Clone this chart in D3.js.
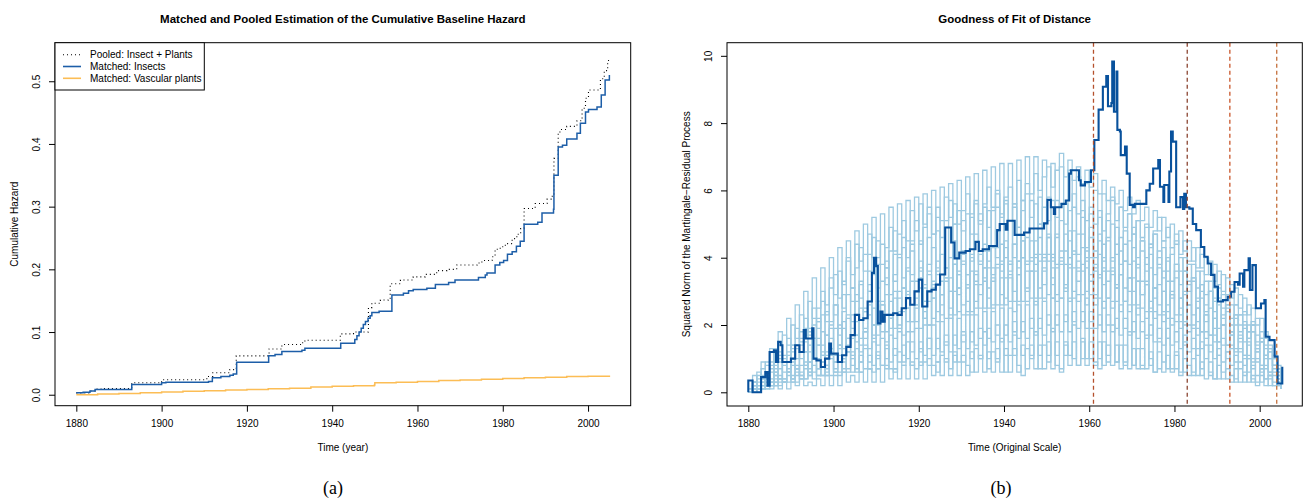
<!DOCTYPE html>
<html>
<head>
<meta charset="utf-8">
<script src="https://cdn.jsdelivr.net/npm/d3@7"></script>
<style>
  body { margin: 0; background: #fff; }
  svg { display: block; font-family: "Liberation Sans", Arial, sans-serif; }
  .axis text { font-size: 10px; fill: #000; }
  .axis line { stroke: #000; }
  .main-title { font-size: 11.5px; font-weight: bold; }
  .axis-title { font-size: 10px; }
  .legend text { font-size: 10px; }
  .caption { font-family: "Liberation Serif", "Times New Roman", serif; font-size: 18px; }
</style>
</head>
<body>
<svg id="figure" width="1306" height="499"></svg>
<script>
// ---------- data ----------
const yearTicks = [1880, 1900, 1920, 1940, 1960, 1980, 2000];
const hazardTicks = [0, 0.1, 0.2, 0.3, 0.4, 0.5];
const scoreTicks = [0, 2, 4, 6, 8, 10];
const legendLabels = ['Pooled: Insect + Plants', 'Matched: Insects', 'Matched: Vascular plants'];
const changeYears = [1961, 1983, 1993, 2004];

// (a) cumulative baseline hazard, [year, hazard] at each step
const pooledSteps = [[1880,0.003],[1883.2,0.006],[1884.4,0.009],[1886,0.010],[1893,0.019],[1900,0.024],
  [1910.6,0.029],[1912,0.035],[1916,0.040],[1917.5,0.062],[1925,0.065],[1925.2,0.073],[1928.2,0.080],
  [1932.9,0.083],[1933.6,0.087],[1941.9,0.097],[1945,0.100],[1948.5,0.139],[1949.3,0.146],[1951.3,0.151],
  [1953.2,0.154],[1953.6,0.177],[1956,0.183],[1959,0.188],[1961.8,0.192],[1964.5,0.198],[1966.9,0.200],
  [1969.2,0.207],[1974,0.210],[1975.1,0.214],[1977.5,0.220],[1978.2,0.232],[1979.4,0.236],[1980.6,0.241],
  [1982.2,0.249],[1983.3,0.256],[1984.2,0.265],[1985,0.297],[1987.6,0.305],[1990.4,0.312],[1991.6,0.318],
  [1992,0.377],[1993,0.417],[1993.4,0.423],[1995,0.428],[1997.4,0.437],[1998.6,0.457],[1999.4,0.473],
  [2000.1,0.486],[2002.9,0.504],[2003.8,0.517],[2004.6,0.533],[2005,0.533]];

const insectSteps = [[1880,0.003],[1881.6,0.004],[1883.2,0.006],[1884.4,0.0085],[1893,0.0165],[1900,0.019],
  [1901,0.020],[1911,0.021],[1911.9,0.027],[1913.9,0.029],[1916,0.031],[1916.8,0.033],[1917.6,0.052],
  [1925.1,0.062],[1926.6,0.064],[1928.2,0.069],[1932.9,0.071],[1933.6,0.074],[1942,0.082],[1945.3,0.088],
  [1945.8,0.094],[1946.3,0.100],[1946.8,0.106],[1947.3,0.112],[1947.8,0.117],[1948.4,0.122],[1948.9,0.126],
  [1949.3,0.131],[1951,0.133],[1954,0.159],[1956.7,0.162],[1957.9,0.166],[1959,0.168],[1962.2,0.170],
  [1964.2,0.176],[1967.3,0.179],[1968.8,0.183],[1974.3,0.187],[1975.9,0.191],[1976.3,0.194],[1978.2,0.207],
  [1979.3,0.211],[1980.2,0.214],[1981.1,0.224],[1982.2,0.228],[1983.2,0.237],[1984.1,0.245],[1985,0.272],
  [1988.2,0.275],[1989.2,0.290],[1991.9,0.296],[1992,0.350],[1993,0.395],[1994,0.398],[1995,0.408],
  [1997.4,0.417],[1998.2,0.433],[1999.4,0.451],[2000.1,0.455],[2002.1,0.459],[2003.1,0.478],[2004,0.502],
  [2005,0.510]];

const plantSteps = [[1880,0.000],[1885,0.001],[1890,0.002],[1895,0.003],[1900,0.0043],[1905,0.0055],
  [1910,0.0065],[1915,0.0075],[1920,0.0085],[1925,0.0095],[1930,0.0105],[1935,0.0122],[1940,0.0135],
  [1945,0.0145],[1949.9,0.0155],[1950,0.019],[1955,0.020],[1960,0.021],[1965,0.0225],[1970,0.0235],
  [1975,0.0245],[1980,0.026],[1985,0.027],[1990,0.028],[1995,0.029],[2000,0.0295],[2005,0.0305]];

// (b) observed squared norm of the score process, [year, value]
const observedSteps = [[1880,0],[1880,0.35],[1881,0],[1883,0.45],[1884,0.6],[1884.5,0.2],[1885,1.2],
  [1886,1.25],[1886.5,0.9],[1887,1.5],[1887.6,1.4],[1888,0.9],[1890,1.0],[1891,1.4],[1892,1.2],
  [1893,1.85],[1893.5,1.6],[1895,1.9],[1895.3,1.0],[1896,0.95],[1897,0.75],[1898,1.0],[1899,1.45],
  [1899.4,1.15],[1901,0.9],[1902,1.1],[1903,1.35],[1904,1.7],[1905,2.3],[1906,2.15],[1907,2.2],
  [1908,2.7],[1909,3.55],[1909.5,4.0],[1910,3.75],[1910.4,2.05],[1911,2.4],[1911.5,2.1],[1912,2.3],
  [1914,2.35],[1915,2.3],[1916,2.5],[1917,2.8],[1918,2.6],[1919,3.0],[1920,3.35],[1920.8,2.55],
  [1922,3.0],[1923,3.05],[1924,3.2],[1925,3.5],[1926.2,4.9],[1927.6,4.45],[1928.4,3.98],[1929.5,4.15],
  [1931,4.2],[1932,4.25],[1933.3,4.47],[1934.1,4.2],[1935,4.25],[1936.5,4.35],[1938.4,4.82],[1939,5.0],
  [1940.4,4.83],[1940.8,5.1],[1942.5,4.68],[1944.7,4.75],[1946,4.87],[1949.4,5.02],[1950.2,5.72],
  [1951,5.5],[1951.7,5.3],[1952,5.5],[1953.5,5.6],[1954.5,5.7],[1955.3,6.5],[1955.7,6.6],[1957.6,6.3],
  [1958,6.15],[1959,6.25],[1960.4,6.6],[1961.2,7.5],[1962.2,8.4],[1963.2,9.08],[1964,9.4],[1964.4,8.5],
  [1965.2,8.6],[1965.4,9.83],[1965.8,8.34],[1966.4,9.53],[1966.6,7.8],[1967.2,7.75],[1967.4,7.05],
  [1968.4,7.3],[1968.8,6.5],[1969.5,5.57],[1970.3,5.5],[1970.7,5.6],[1973.4,6.0],[1974.2,6.2],[1975,6.65],
  [1976.2,6.9],[1976.6,6.11],[1977.4,5.66],[1977.6,6.16],[1978.6,5.66],[1978.8,6.56],[1979.2,7.75],
  [1979.6,7.45],[1980.4,5.5],[1981.4,5.8],[1982,5.45],[1982.3,5.9],[1982.7,5.5],[1983.5,5.46],[1984.3,5.0],
  [1985.1,4.82],[1986.2,4.32],[1987,4.03],[1987.8,3.83],[1988.6,3.49],[1989.4,3.14],[1990.2,2.7],
  [1991.4,2.74],[1992.5,2.84],[1993.3,2.99],[1994.1,3.28],[1994.9,3.2],[1995.3,3.53],[1996.1,3.14],
  [1996.4,3.63],[1997.4,3.98],[1997.7,3.04],[1998.3,3.78],[1999.1,2.5],[2000.3,2.64],[2001.1,2.74],
  [2001.4,1.65],[2002.3,1.55],[2003.5,1.06],[2004.2,0.26],[2005.3,0.76]];

// simulated processes under the model, one value per year 1880..2005
const simYears = d3.range(1880, 2006);
const sim1 = [0.1,0.3,0.2,0.7,0.9,0.6,1.3,1.1,1.7,1.4, 2.0,1.6,2.3,1.9,2.7,2.2,2.5,3.0,2.6,3.4,
  2.9,3.6,3.2,4.0,3.5,4.4,3.9,4.1,4.7,4.0, 4.5,3.8,4.3,4.9,4.2,4.7,5.1,4.5,5.4,4.8,
  5.6,5.0,5.3,4.7,5.5,5.1,5.8,5.2,5.6,5.0, 5.4,5.9,5.3,5.7,5.1,5.6,6.1,5.5,5.9,5.3,
  5.8,6.1,5.6,6.3,5.7,6.2,5.9,6.5,6.0,6.4, 6.7,6.1,6.6,7.1,6.4,6.9,6.3,6.7,6.2,6.6,
  6.1,6.5,5.9,6.3,5.7,6.1,5.6,6.0,5.4,5.8, 5.3,5.7,5.1,5.5,4.9,5.4,4.8,5.2,4.6,5.0,
  4.4,4.8,4.2,4.5,3.9,4.3,3.7,4.0,3.5,3.8, 3.2,3.5,2.9,3.2,2.6,2.9,2.3,2.6,2.0,2.2,
  1.6,1.8,1.3,1.0,0.7,0.4];
const sim2 = [0.0,0.2,0.5,0.3,0.8,1.2,0.8,1.4,1.0,1.6, 1.3,1.9,1.5,2.2,1.8,2.5,2.1,2.7,2.3,3.1,
  3.5,2.8,3.3,3.9,3.1,3.7,4.3,3.6,4.1,4.6, 4.0,4.4,3.7,4.2,4.8,4.1,4.6,4.0,4.5,5.1,
  4.4,4.9,5.5,4.7,5.2,4.6,5.1,5.7,5.0,5.4, 4.8,5.3,4.7,5.6,5.0,5.5,4.9,5.4,6.0,5.2,
  5.7,5.1,5.5,4.9,5.4,5.9,5.2,5.6,5.0,5.5, 5.1,5.7,5.2,5.6,5.0,5.4,5.9,5.3,5.7,5.1,
  5.5,5.0,5.4,4.8,5.3,5.8,5.1,5.5,4.9,5.3, 4.7,5.1,4.6,5.0,4.4,4.8,5.2,4.5,4.9,4.3,
  4.7,4.1,4.5,3.9,4.3,3.7,4.1,3.5,3.9,3.3, 3.6,3.0,3.4,2.8,3.1,2.5,2.8,2.3,2.5,2.0,
  2.2,1.7,1.4,1.1,0.8,0.4];
const sim3 = [0.0,0.3,0.1,0.4,0.2,0.8,0.5,1.0,0.6,1.2, 0.8,1.4,1.0,1.7,1.2,2.0,1.4,2.3,1.7,2.1,
  2.6,1.9,2.4,2.9,2.1,2.7,3.2,2.4,3.0,3.5, 2.7,3.3,3.7,2.9,3.5,4.0,3.1,3.7,4.2,3.3,
  3.9,3.2,3.8,4.3,3.5,4.1,3.4,4.0,4.5,3.6, 4.2,3.5,4.1,4.7,3.8,4.4,3.7,4.3,4.8,3.9,
  4.5,3.8,4.4,4.9,4.0,4.6,3.9,4.5,5.0,4.1, 4.7,4.0,4.6,5.1,4.2,4.8,4.1,4.7,5.2,4.3,
  4.9,4.2,4.7,4.0,4.6,5.0,4.1,4.6,3.9,4.5, 4.9,4.0,4.5,3.8,4.3,4.7,3.8,4.3,3.6,4.1,
  4.5,3.6,4.0,3.3,3.8,3.1,3.6,2.9,3.3,2.7, 3.1,2.5,2.9,2.2,2.6,2.0,2.4,1.8,2.1,1.5,
  1.8,1.3,1.0,0.8,0.5,0.3];
const sim4 = [0.0,0.1,0.3,0.2,0.5,0.3,0.7,0.4,0.9,0.6, 1.0,0.7,1.2,0.8,1.4,1.0,1.6,1.1,1.7,1.3,
  1.9,1.4,2.1,1.6,2.3,1.7,2.5,1.9,2.6,2.0, 2.7,2.1,2.9,2.2,3.0,2.4,3.1,2.5,3.3,2.6,
  3.4,2.7,3.5,2.8,3.6,2.9,3.7,3.0,3.8,3.1, 3.9,3.2,4.0,3.3,4.1,3.4,4.2,3.5,4.3,3.6,
  4.3,3.6,4.4,3.7,4.5,3.8,4.5,3.8,4.6,3.9, 4.6,3.9,4.7,4.0,4.7,4.0,4.8,4.1,4.7,4.0,
  4.6,4.0,4.5,3.9,4.5,3.9,4.4,3.8,4.4,3.8, 4.3,3.7,4.2,3.6,4.1,3.5,4.0,3.4,3.9,3.3,
  3.8,3.2,3.6,3.0,3.4,2.8,3.2,2.6,3.0,2.4, 2.8,2.2,2.6,2.0,2.3,1.8,2.1,1.6,1.8,1.4,
  1.5,1.1,1.2,0.8,0.6,0.3];
const sim5 = [0.0,0.2,0.1,0.3,0.5,0.2,0.4,0.7,0.4,0.6, 0.9,0.5,0.8,1.2,0.7,1.0,1.4,0.9,1.2,1.6,
  1.1,1.4,1.9,1.2,1.6,2.1,1.4,1.8,2.3,1.6, 2.0,2.6,1.8,2.2,2.8,1.9,2.4,3.0,2.1,2.5,
  3.1,2.2,2.7,3.3,2.4,2.9,3.4,2.5,3.0,3.5, 2.6,3.1,3.6,2.7,3.2,3.7,2.8,3.3,3.8,2.9,
  3.4,3.9,3.0,3.5,4.0,3.1,3.6,4.1,3.1,3.6, 4.1,3.2,3.7,4.2,3.2,3.7,4.2,3.3,3.8,4.2,
  3.3,3.7,4.1,3.2,3.6,4.0,3.1,3.5,3.9,3.0, 3.4,3.8,2.9,3.3,3.7,2.8,3.2,3.6,2.6,3.0,
  3.4,2.5,2.9,3.2,2.3,2.7,3.0,2.1,2.5,2.8, 1.9,2.3,2.6,1.7,2.0,2.3,1.5,1.8,2.0,1.2,
  1.5,1.6,1.0,1.1,0.6,0.3];
const sim6 = [0.0,0.1,0.2,0.1,0.3,0.4,0.2,0.5,0.3,0.6, 0.4,0.7,0.5,0.9,0.6,1.0,0.7,1.2,0.8,1.3,
  0.9,1.4,1.0,1.6,1.1,1.7,1.2,1.8,1.3,2.0, 1.4,2.1,1.5,2.2,1.6,2.3,1.7,2.5,1.8,2.6,
  1.9,2.7,2.0,2.8,2.1,2.9,2.2,3.0,2.3,3.1, 2.3,3.2,2.4,3.2,2.5,3.3,2.5,3.4,2.6,3.4,
  2.6,3.5,2.7,3.5,2.7,3.6,2.8,3.6,2.8,3.7, 2.9,3.7,2.9,3.8,3.0,3.8,3.0,3.7,2.9,3.7,
  2.9,3.6,2.8,3.6,2.8,3.5,2.7,3.5,2.7,3.4, 2.6,3.3,2.5,3.2,2.4,3.1,2.3,3.0,2.2,2.9,
  2.1,2.8,2.0,2.6,1.9,2.5,1.8,2.3,1.7,2.2, 1.5,2.0,1.4,1.8,1.3,1.6,1.1,1.4,1.0,1.2,
  0.8,1.0,0.6,0.7,0.4,0.2];
const sim7 = [0.0,0.1,0.0,0.2,0.1,0.3,0.2,0.4,0.3,0.5, 0.3,0.6,0.4,0.7,0.5,0.8,0.5,0.9,0.6,1.0,
  0.7,1.1,0.7,1.2,0.8,1.3,0.9,1.4,0.9,1.5, 1.0,1.6,1.0,1.7,1.1,1.8,1.1,1.8,1.2,1.9,
  1.2,2.0,1.3,2.0,1.3,2.1,1.4,2.2,1.4,2.2, 1.5,2.3,1.5,2.3,1.6,2.4,1.6,2.4,1.7,2.5,
  1.7,2.5,1.8,2.6,1.8,2.6,1.9,2.7,1.9,2.7, 2.0,2.8,2.0,2.8,2.1,2.8,2.1,2.9,2.1,2.8,
  2.1,2.8,2.0,2.7,2.0,2.7,1.9,2.6,1.9,2.6, 1.8,2.5,1.8,2.4,1.7,2.4,1.6,2.3,1.6,2.2,
  1.5,2.1,1.4,2.0,1.3,1.9,1.3,1.8,1.2,1.7, 1.1,1.6,1.0,1.4,0.9,1.3,0.8,1.1,0.7,1.0,
  0.6,0.8,0.5,0.6,0.3,0.2];
const sim8 = [0.0,0.0,0.1,0.2,0.1,0.2,0.3,0.2,0.4,0.3, 0.5,0.3,0.6,0.4,0.6,0.4,0.7,0.5,0.8,0.5,
  0.9,0.6,0.9,0.6,1.0,0.7,1.1,0.7,1.1,0.8, 1.2,0.8,1.3,0.9,1.3,0.9,1.4,1.0,1.5,1.0,
  1.5,1.1,1.6,1.1,1.6,1.2,1.7,1.2,1.7,1.3, 1.8,1.3,1.8,1.4,1.9,1.4,1.9,1.5,2.0,1.5,
  2.0,1.5,2.1,1.6,2.1,1.6,2.2,1.7,2.2,1.7, 2.3,1.8,2.3,1.8,2.3,1.8,2.4,1.9,2.4,1.9,
  2.4,1.9,2.3,1.8,2.3,1.8,2.2,1.7,2.2,1.7, 2.1,1.6,2.1,1.6,2.0,1.5,1.9,1.4,1.9,1.4,
  1.8,1.3,1.7,1.2,1.6,1.1,1.5,1.0,1.4,1.0, 1.3,0.9,1.2,0.8,1.1,0.7,1.0,0.6,0.8,0.5,
  0.7,0.4,0.5,0.3,0.3,0.1];
const sim9 = [0.0,0.1,0.0,0.1,0.2,0.1,0.2,0.1,0.3,0.1, 0.3,0.2,0.4,0.2,0.3,0.2,0.4,0.2,0.5,0.2,
  0.5,0.2,0.6,0.3,0.5,0.3,0.6,0.3,0.7,0.3, 0.7,0.3,0.8,0.4,0.7,0.4,0.8,0.4,0.9,0.4,
  0.9,0.4,1.0,0.5,0.9,0.5,1.0,0.5,1.1,0.5, 1.1,0.5,1.2,0.6,1.1,0.6,1.2,0.6,1.3,0.6,
  1.3,0.6,1.3,0.6,1.4,0.7,1.4,0.7,1.4,0.7, 1.5,0.7,1.5,0.7,1.5,0.8,1.5,0.8,1.6,0.8,
  1.5,0.8,1.5,0.8,1.4,0.8,1.4,0.7,1.4,0.7, 1.3,0.7,1.3,0.7,1.2,0.6,1.2,0.6,1.1,0.6,
  1.1,0.5,1.0,0.5,1.0,0.5,0.9,0.4,0.9,0.4, 0.8,0.4,0.7,0.3,0.7,0.3,0.6,0.3,0.5,0.2,
  0.5,0.2,0.4,0.2,0.2,0.1];
const sim10 = [0.0,0.2,0.4,0.1,0.6,0.3,0.9,0.4,1.1,0.6, 1.4,0.7,1.6,0.8,1.9,1.0,2.1,1.1,2.4,1.2,
  2.6,1.3,2.9,1.4,3.1,1.5,3.3,1.6,3.6,1.7, 3.8,1.8,3.9,1.9,4.1,2.0,4.3,2.1,4.4,2.1,
  4.5,2.2,4.6,2.2,4.8,2.3,4.9,2.3,5.0,2.4, 5.1,2.4,5.2,2.5,5.3,2.5,5.4,2.6,5.5,2.6,
  5.6,2.7,5.6,2.7,5.7,2.7,5.7,2.8,5.8,2.8, 5.8,2.8,5.7,2.8,5.6,2.7,5.5,2.7,5.4,2.6,
  5.3,2.6,5.2,2.5,5.1,2.5,4.9,2.4,4.8,2.4, 4.7,2.3,4.5,2.2,4.4,2.2,4.2,2.1,4.0,2.0,
  3.8,1.9,3.6,1.8,3.4,1.7,3.2,1.6,3.0,1.5, 2.8,1.4,2.5,1.3,2.3,1.2,2.0,1.0,1.8,0.9,
  1.5,0.7,1.2,0.5,0.7,0.3];
const sim11 = [0.0,0.3,0.1,0.5,0.2,0.7,0.3,0.9,0.3,1.1, 0.4,1.3,0.4,1.5,0.5,1.6,0.5,1.8,0.5,1.9,
  0.6,2.0,0.6,2.2,0.6,2.3,0.6,2.4,0.7,2.5, 0.7,2.6,0.7,2.7,0.7,2.8,0.8,2.9,0.8,3.0,
  0.8,3.1,0.8,3.2,0.9,3.3,0.9,3.4,0.9,3.5, 0.9,3.5,1.0,3.6,1.0,3.7,1.0,3.7,1.0,3.8,
  1.1,3.8,1.1,3.9,1.1,3.9,1.1,4.0,1.1,4.0, 1.1,4.1,1.1,4.0,1.1,4.0,1.0,3.9,1.0,3.9,
  1.0,3.8,1.0,3.7,0.9,3.6,0.9,3.5,0.9,3.4, 0.8,3.3,0.8,3.2,0.8,3.1,0.7,3.0,0.7,2.9,
  0.7,2.8,0.6,2.6,0.6,2.5,0.5,2.3,0.5,2.2, 0.4,2.0,0.4,1.8,0.4,1.7,0.3,1.5,0.3,1.3,
  0.3,1.1,0.2,0.8,0.2,0.4];
const sim12 = [0.1,0.5,0.2,0.9,0.4,1.3,0.6,1.8,0.9,2.2, 1.2,2.6,1.4,3.0,1.7,3.4,1.9,3.7,2.1,4.0,
  2.3,4.3,2.5,4.5,2.7,4.8,2.8,5.0,3.0,5.2, 3.1,5.3,3.2,5.5,3.3,5.6,3.4,5.7,3.5,5.8,
  3.6,5.9,3.6,6.0,3.7,6.1,3.7,6.2,3.8,6.3, 3.8,6.4,3.9,6.5,3.9,6.6,3.9,6.7,4.0,6.8,
  4.0,6.8,4.0,6.9,4.0,7.0,4.0,7.0,3.9,6.9, 3.9,6.8,3.8,6.7,3.8,6.6,3.7,6.4,3.6,6.2,
  3.5,6.0,3.4,5.9,3.3,5.7,3.2,5.5,3.1,5.3, 3.0,5.1,2.9,4.9,2.7,4.7,2.6,4.5,2.4,4.3,
  2.3,4.0,2.1,3.8,2.0,3.6,1.8,3.3,1.7,3.1, 1.5,2.9,1.4,2.6,1.2,2.3,1.1,2.0,0.9,1.7,
  0.8,1.4,0.6,1.0,0.4,0.5];
const sim13 = [0.0,0.2,0.1,0.1,0.4,0.2,0.5,0.3,0.3,0.6, 0.4,0.8,0.5,0.4,0.9,0.6,1.0,0.5,0.7,1.1,
  0.6,0.5,1.0,0.7,1.2,0.6,0.9,1.3,0.7,0.6, 1.1,0.8,1.4,0.7,0.6,1.2,0.9,1.5,0.8,0.7,
  1.3,0.9,1.6,0.8,0.6,1.1,1.5,0.7,1.2,0.9, 1.7,0.8,0.6,1.3,1.0,1.8,0.7,1.2,0.9,1.6,
  0.6,1.1,1.7,0.8,0.5,1.3,1.0,1.8,0.7,1.4, 0.9,1.9,0.8,0.6,1.4,1.1,2.0,0.8,1.5,1.0,
  1.9,0.9,0.7,1.5,1.1,2.0,0.9,1.4,0.8,1.8, 0.8,1.3,0.7,1.7,1.0,0.6,1.5,0.9,1.6,0.7,
  1.2,0.6,1.5,0.8,0.5,1.3,0.7,1.4,0.6,0.4, 1.1,0.6,1.2,0.5,0.3,0.9,0.5,1.0,0.4,0.3,
  0.7,0.4,0.5,0.2,0.3,0.1];
const sim14 = [0.0,0.3,0.6,0.4,0.2,0.9,0.6,1.2,0.8,0.7, 1.4,1.0,1.8,1.2,0.9,1.6,2.2,1.4,1.1,2.0,
  2.6,1.7,1.3,2.3,1.9,2.9,1.6,2.5,3.2,2.0, 1.7,2.7,3.4,2.3,1.9,3.0,2.5,3.6,2.1,2.8,
  3.7,2.4,2.0,3.1,3.9,2.6,3.3,2.2,3.8,2.9, 4.1,2.7,2.3,3.5,2.9,4.2,3.1,2.5,3.7,4.4,
  2.8,3.4,2.4,3.9,4.5,3.0,3.6,2.6,4.1,3.2, 4.6,3.4,2.7,3.9,3.1,4.5,2.8,3.6,4.3,3.0,
  4.0,2.9,3.5,4.4,2.8,3.7,3.1,4.2,2.7,3.4, 3.9,2.6,3.3,4.0,2.5,3.1,3.7,2.4,3.3,2.8,
  3.6,2.3,3.0,2.6,3.3,2.1,2.8,2.4,3.0,1.9, 2.6,2.0,2.4,1.7,2.2,1.5,1.9,1.6,2.0,1.3,
  1.6,1.1,1.3,0.8,0.5,0.2];
const simPaths = [sim1, sim2, sim3, sim4, sim5, sim6, sim7, sim8, sim9, sim10, sim11, sim12, sim13, sim14];

// ---------- one R-style panel with a box, ticks and labels ----------
class StepPanel {

  constructor(_config) {
    this.config = {
      parentElement: _config.parentElement,
      left: _config.left,
      top: _config.top,
      width: _config.width,
      height: _config.height,
      xDomain: _config.xDomain,
      yDomain: _config.yDomain,
      yTicks: _config.yTicks,
      yFormat: _config.yFormat,
      title: _config.title,
      xLabel: _config.xLabel,
      yLabel: _config.yLabel,
      yLabelX: _config.yLabelX
    };
    this.initVis();
  }

  initVis() {
    let vis = this;
    const c = vis.config;

    vis.xScale = d3.scaleLinear().domain(c.xDomain).range([0, c.width]);
    vis.yScale = d3.scaleLinear().domain(c.yDomain).range([c.height, 0]);

    vis.svg = d3.select(c.parentElement);
    vis.chart = vis.svg.append('g')
      .attr('transform', `translate(${c.left},${c.top})`);

    // marks go in here so they stay under the box
    vis.marks = vis.chart.append('g');

    vis.xAxis = d3.axisBottom(vis.xScale)
      .tickValues(yearTicks)
      .tickFormat(d3.format('d'))
      .tickSize(6)
      .tickPadding(8);

    vis.yAxis = d3.axisLeft(vis.yScale)
      .tickValues(c.yTicks)
      .tickFormat(c.yFormat)
      .tickSize(6);

    vis.chart.append('g')
      .attr('class', 'axis x-axis')
      .attr('transform', `translate(0,${c.height})`)
      .call(vis.xAxis)
      .call(g => g.select('.domain').remove());

    // R writes the y labels parallel to the axis
    vis.chart.append('g')
      .attr('class', 'axis y-axis')
      .call(vis.yAxis)
      .call(g => g.select('.domain').remove())
      .selectAll('text')
        .attr('x', 0)
        .attr('y', 0)
        .attr('dy', null)
        .attr('text-anchor', 'middle')
        .attr('transform', 'translate(-15,0) rotate(-90)');

    vis.chart.append('rect')
      .attr('width', c.width)
      .attr('height', c.height)
      .attr('fill', 'none')
      .attr('stroke', '#000')
      .attr('stroke-width', 1);

    // titles
    vis.svg.append('text')
      .attr('class', 'main-title')
      .attr('x', c.left + c.width / 2)
      .attr('y', 23)
      .attr('text-anchor', 'middle')
      .text(c.title);

    vis.svg.append('text')
      .attr('class', 'axis-title')
      .attr('x', c.left + c.width / 2)
      .attr('y', 451)
      .attr('text-anchor', 'middle')
      .text(c.xLabel);

    vis.svg.append('text')
      .attr('class', 'axis-title')
      .attr('text-anchor', 'middle')
      .attr('dy', '0.35em')
      .attr('transform', `translate(${c.yLabelX},${c.top + c.height / 2}) rotate(-90)`)
      .text(c.yLabel);

    vis.stepLine = d3.line()
      .x(d => vis.xScale(d[0]))
      .y(d => vis.yScale(d[1]))
      .curve(d3.curveStepAfter);
  }

  addStep(steps, color, width, dash) {
    let vis = this;
    vis.marks.append('path')
      .datum(steps)
      .attr('d', vis.stepLine)
      .attr('fill', 'none')
      .attr('stroke', color)
      .attr('stroke-width', width)
      .attr('stroke-dasharray', dash || null);
  }
}

const svg = d3.select('#figure');

// ---------- (a) ----------
const hazard = new StepPanel({
  parentElement: '#figure',
  left: 55, top: 42.7, width: 575.7, height: 363,
  xDomain: [1875, 2010], yDomain: [-0.0175, 0.5615],
  yTicks: hazardTicks, yFormat: d3.format('.1f'),
  title: 'Matched and Pooled Estimation of the Cumulative Baseline Hazard',
  xLabel: 'Time (year)', yLabel: 'Cumulative Hazard', yLabelX: 14
});

const hazardColors = ['#000', '#1d5ea8', '#fcbd55'];
hazard.addStep(pooledSteps, hazardColors[0], 1.1, '1,3');
hazard.addStep(insectSteps, hazardColors[1], 1.5);
hazard.addStep(plantSteps, hazardColors[2], 1.5);

const legend = hazard.chart.append('g').attr('class', 'legend');
legend.append('rect')
  .attr('width', 149.3).attr('height', 47.3)
  .attr('fill', '#fff').attr('stroke', '#000');
legendLabels.forEach((lab, i) => {
  const y = 12 + i * 11.8;
  legend.append('line')
    .attr('x1', 8).attr('x2', 26).attr('y1', y).attr('y2', y)
    .attr('stroke', hazardColors[i])
    .attr('stroke-width', i === 0 ? 1.1 : 1.6)
    .attr('stroke-dasharray', i === 0 ? '1,3' : null);
  legend.append('text')
    .attr('x', 35).attr('y', y).attr('dy', '0.35em')
    .text(lab);
});

// ---------- (b) ----------
const score = new StepPanel({
  parentElement: '#figure',
  left: 727, top: 42.7, width: 575.3, height: 363.3,
  xDomain: [1875, 2010], yDomain: [-0.407, 10.39],
  yTicks: scoreTicks, yFormat: d3.format('d'),
  title: 'Goodness of Fit of Distance',
  xLabel: 'Time (Original Scale)',
  yLabel: 'Squared Norm of the Martingale\u2212Residual Process', yLabelX: 686
});

simPaths.forEach(p => {
  score.addStep(p.map((v, i) => [simYears[i], v]), '#9ecae1', 1.3);
});
score.addStep(observedSteps, '#08519c', 2.1);

const changeColors = ['#b4502c', '#8c4632', '#c9552a', '#c4703c'];
score.marks.selectAll('.change')
  .data(changeYears)
  .join('line')
    .attr('class', 'change')
    .attr('x1', d => score.xScale(d))
    .attr('x2', d => score.xScale(d))
    .attr('y1', 0)
    .attr('y2', score.config.height)
    .attr('stroke', (d, i) => changeColors[i])
    .attr('stroke-width', 1.3)
    .attr('stroke-dasharray', '4,3');

// sub-figure captions
svg.append('text').attr('class', 'caption')
  .attr('x', 333).attr('y', 494).attr('text-anchor', 'middle').text('(a)');
svg.append('text').attr('class', 'caption')
  .attr('x', 1001).attr('y', 494).attr('text-anchor', 'middle').text('(b)');
</script>
</body>
</html>
